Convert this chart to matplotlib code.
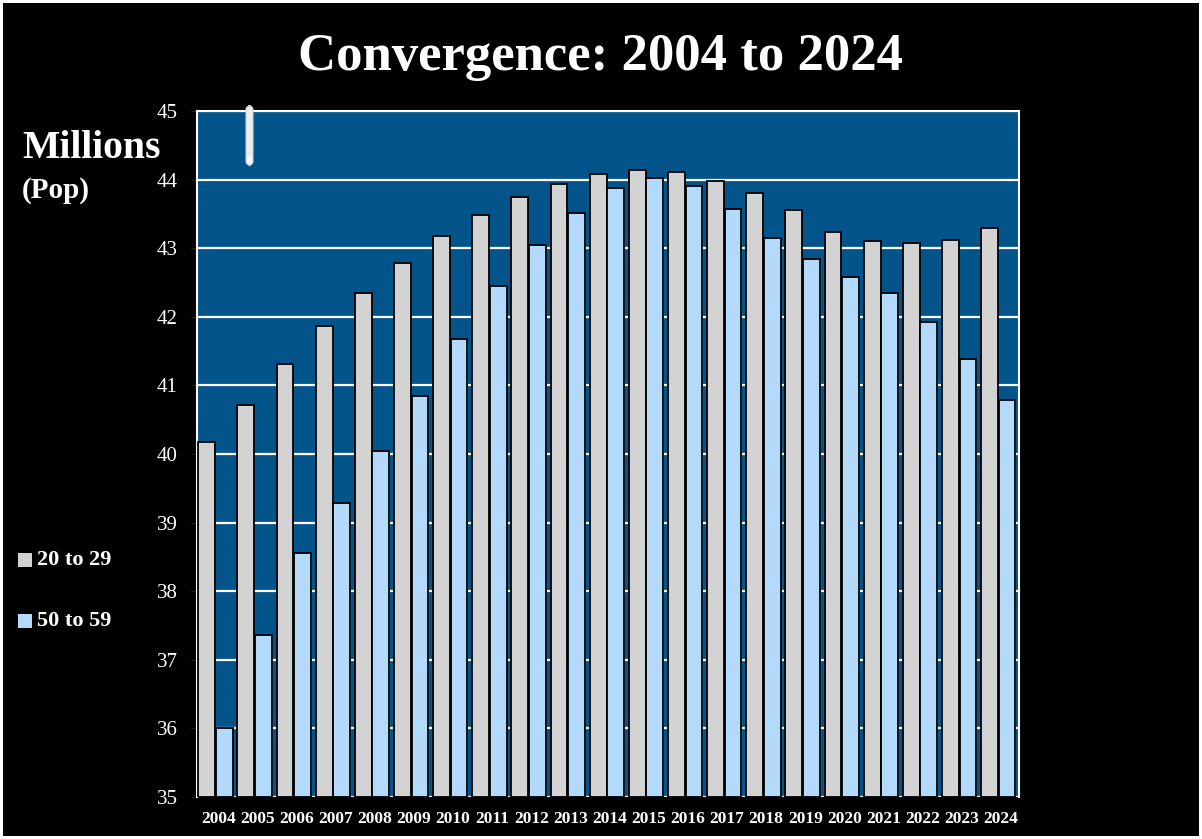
import matplotlib
matplotlib.use("Agg")
import matplotlib.pyplot as plt
import numpy as np
from matplotlib.patches import FancyBboxPatch

years = [str(y) for y in range(2004, 2025)]
pop_20_29 = [40.17, 40.71, 41.31, 41.86, 42.35, 42.79, 43.18, 43.49, 43.75, 43.93,
             44.08, 44.14, 44.11, 43.98, 43.80, 43.56, 43.23, 43.10, 43.08, 43.12, 43.30]
pop_50_59 = [36.00, 37.36, 38.56, 39.29, 40.04, 40.85, 41.68, 42.45, 43.05, 43.52,
             43.88, 44.03, 43.90, 43.57, 43.15, 42.84, 42.58, 42.35, 41.93, 41.38, 40.79]
series_labels = ["20 to 29", "50 to 59"]
y_ticks = list(range(35, 46))

W, H = 1202, 839
fig = plt.figure(figsize=(W / 100, H / 100), dpi=100)
fig.patch.set_facecolor("black")
fig.patch.set_edgecolor("white")
fig.patch.set_linewidth(3)

serif = ["Liberation Serif", "DejaVu Serif"]
grey = "#d3d3d3"
lblue = "#b3dafd"
bg = "#02548b"

left, right, top, bottom = 197, 1019, 111, 797
ax = fig.add_axes([left / W, 1 - bottom / H, (right - left) / W, (bottom - top) / H])
ax.set_facecolor(bg)

x = np.arange(len(years))
bw = 0.43
ax.bar(x - 0.5 + 0.033 + bw / 2, [v - 35 for v in pop_20_29], bw, bottom=35,
       color=grey, edgecolor="black", linewidth=1.3, zorder=3)
# subtle shadow
ax.bar(x - 0.5 + 0.48 + bw / 2 + 0.02, [v - 35 for v in pop_50_59], bw, bottom=35,
       color="#c8d8e8", edgecolor="none", linewidth=0, zorder=2.5)
ax.bar(x - 0.5 + 0.48 + bw / 2, [v - 35 for v in pop_50_59], bw, bottom=35,
       color=lblue, edgecolor="black", linewidth=1.3, zorder=3)

ax.set_xlim(-0.5, len(years) - 0.5)
ax.set_ylim(35, 45)
ax.set_yticks(y_ticks)
ax.set_yticklabels([str(t) for t in y_ticks], family=serif, fontsize=15, color="white")
ax.set_xticks(x + 0.04)
ax.set_xticklabels(years, family=serif, fontsize=12.5, color="white", fontweight="bold")
ax.tick_params(axis="x", length=0, pad=10)
ax.tick_params(axis="y", length=4, color="#222222", direction="out", pad=10)
ax.yaxis.grid(True, color="white", linewidth=1.6, zorder=1)
ax.set_axisbelow(True)
for s in ["top", "right", "left"]:
    ax.spines[s].set_color("white")
    ax.spines[s].set_linewidth(1.5)
ax.spines["bottom"].set_visible(False)

fig.text(600 / W, 1 - 57 / H, "Convergence: 2004 to 2024", family=serif,
         fontsize=38, fontweight="bold", color="white", ha="center", va="center")
fig.text(22 / W, 1 - 148 / H, "Millions", family=serif, fontsize=28.5,
         fontweight="bold", color="white", ha="left", va="center")
fig.text(22 / W, 1 - 190 / H, "(Pop)", family=serif, fontsize=21,
         fontweight="bold", color="white", ha="left", va="center")

# legend
for lbl, col, yy in [(series_labels[0], grey, 560), (series_labels[1], lblue, 621)]:
    fig.patches.append(plt.Rectangle((18 / W, 1 - (yy + 7) / H), 14 / W, 14 / H,
                                     transform=fig.transFigure, facecolor=col,
                                     edgecolor="none"))
    fig.text(37 / W, 1 - yy / H, lbl, family=serif, fontsize=16, fontweight="bold",
             color="white", ha="left", va="center")

# small white marker near top-left of plot
marker = FancyBboxPatch((246 / W, 1 - 165 / H), 7 / W, 59 / H,
                        boxstyle="round,pad=0,rounding_size=0.004",
                        transform=fig.transFigure, facecolor="#eeeeee",
                        edgecolor="#cccccc", linewidth=0.8, zorder=10)
fig.patches.append(marker)
fig.patches.append(plt.Rectangle((247 / W, 1 - 164 / H), 5 / W, 7 / H,
                                 transform=fig.transFigure, facecolor="white",
                                 edgecolor="none", zorder=11))

fig.savefig("out.png", dpi=100, facecolor=fig.get_facecolor(), edgecolor=fig.get_edgecolor())
